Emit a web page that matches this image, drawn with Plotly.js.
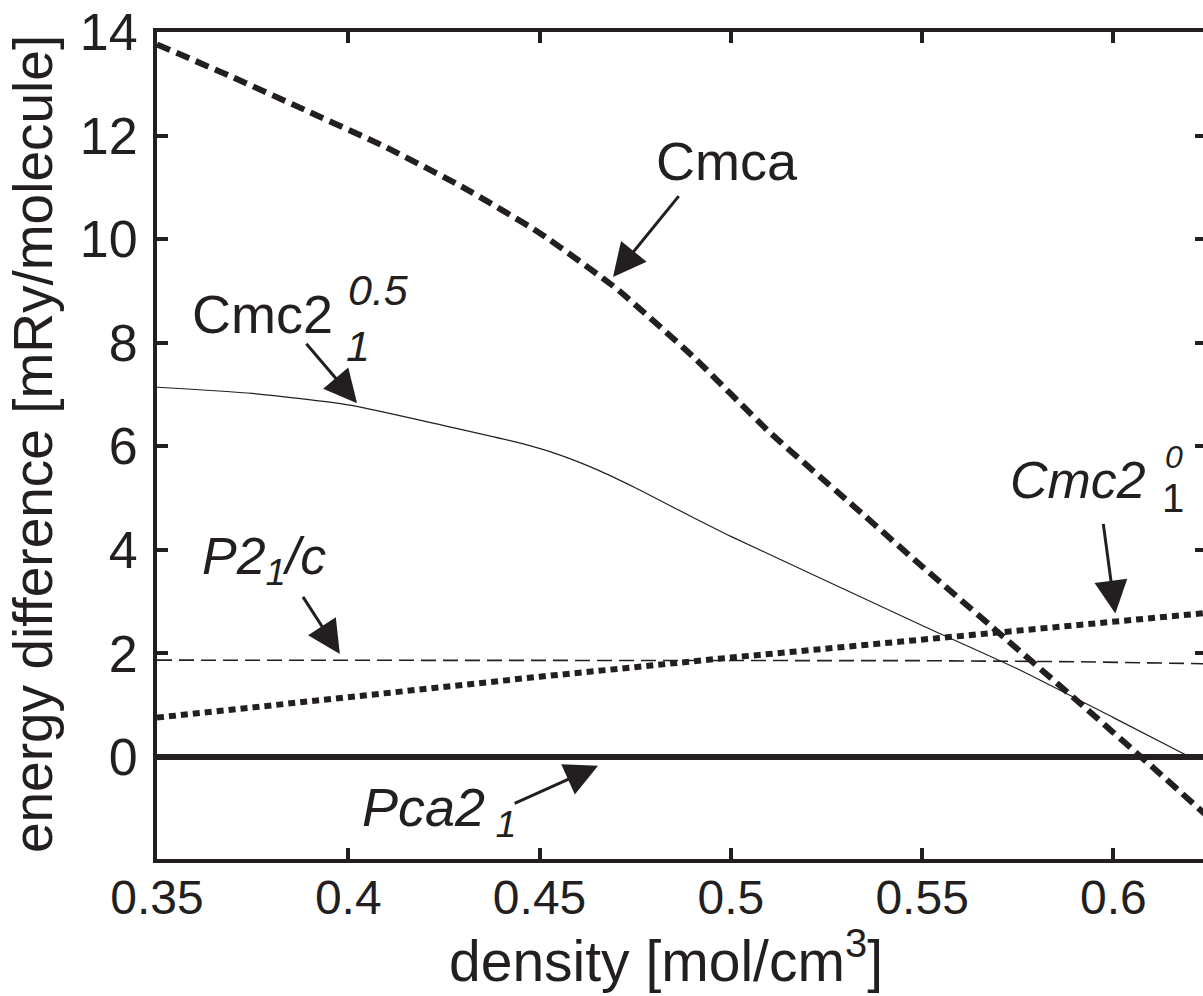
<!DOCTYPE html>
<html>
<head>
<meta charset="utf-8">
<script src="https://cdn.plot.ly/plotly-3.0.1.min.js"></script>
<style>
  html, body { margin: 0; padding: 0; background: #fff; overflow: hidden; }
  #plot { width: 1210px; height: 996px; }
</style>
</head>
<body>
<div id="plot"></div>
<script>
// ---- data ----
const xEnd = 0.6242;

const cmcaDensity = [0.35, 0.37, 0.39, 0.41, 0.43, 0.45, 0.47, 0.49, 0.51, 0.53, 0.55, 0.57, 0.59, 0.61, 0.6242];
const cmcaEnergy  = [13.76, 13.12, 12.45, 11.77, 11.00, 10.12, 9.05, 7.74, 6.28, 4.98, 3.68, 2.40, 1.12, -0.18, -1.12];

const cmc2Half_Density = [0.35, 0.375, 0.40, 0.425, 0.445, 0.455, 0.465, 0.475, 0.49, 0.50, 0.525, 0.55, 0.575, 0.60, 0.62];
const cmc2Half_Energy  = [7.14, 7.02, 6.80, 6.40, 6.06, 5.84, 5.55, 5.20, 4.63, 4.26, 3.40, 2.54, 1.70, 0.76, 0.0];

const p21cDensity = [0.35, 0.45, 0.55, 0.59, 0.6242];
const p21cEnergy  = [1.87, 1.87, 1.86, 1.84, 1.80];

const cmc2Zero_Density = [0.35, 0.40, 0.45, 0.50, 0.55, 0.60, 0.6242];
const cmc2Zero_Energy  = [0.76, 1.16, 1.55, 1.92, 2.27, 2.62, 2.78];

const pca21Density = [0.35, 0.6242];
const pca21Energy  = [0, 0];

const xTickVals = [0.35, 0.4, 0.45, 0.5, 0.55, 0.6];
const xTickText = ['0.35', '0.4', '0.45', '0.5', '0.55', '0.6'];
const yTickVals = [0, 2, 4, 6, 8, 10, 12, 14];
const yTickText = ['0', '2', '4', '6', '8', '10', '12', '14'];

// ---- styling ----
const ink = '#231f20';
const FONT = 'Liberation Sans, Arial, Helvetica, sans-serif';

const traces = [
  { x: pca21Density, y: pca21Energy, mode: 'lines', line: { color: ink, width: 6 } },
  { x: p21cDensity, y: p21cEnergy, mode: 'lines', line: { color: ink, width: 1.6, dash: '15px,7px' } },
  { x: cmc2Half_Density, y: cmc2Half_Energy, mode: 'lines', line: { color: ink, width: 1.2, shape: 'spline', smoothing: 0.6 } },
  { x: cmc2Zero_Density, y: cmc2Zero_Energy, mode: 'lines', line: { color: ink, width: 6, dash: '7px,5px' } },
  { x: cmcaDensity, y: cmcaEnergy, mode: 'lines', line: { color: ink, width: 6, dash: '14px,7px', shape: 'spline', smoothing: 0.5 } }
];

function label(text, x, y, size, opts) {
  return Object.assign({
    x: x, y: y, xref: 'x', yref: 'y', text: text, showarrow: false,
    font: { family: FONT, size: size, color: ink },
    xanchor: 'center', yanchor: 'middle'
  }, opts || {});
}
function arrow(tipX, tipY, tailX, tailY) {
  return {
    x: tipX, y: tipY, ax: tailX, ay: tailY, xref: 'x', yref: 'y', axref: 'x', ayref: 'y',
    text: '', showarrow: true, arrowhead: 2, arrowsize: 2.2, arrowwidth: 3,
    arrowcolor: ink, standoff: 0, startstandoff: 0
  };
}

const annotations = [
  label('Cmca', 0.499, 11.50, 54),
  arrow(0.4692, 9.27, 0.4867, 10.86),

  label('Cmc2', 0.3775, 8.55, 54),
  label('<i>0.5</i>', 0.4078, 9.02, 43),
  label('<i>1</i>', 0.4025, 7.93, 43),
  arrow(0.4023, 6.83, 0.3887, 8.01),

  label('<i>P2<sub>1</sub>/c</i>', 0.3612, 3.80, 52, { xanchor: 'left' }),
  arrow(0.3978, 1.99, 0.3879, 3.12),

  label('<i>Pca2<sub> 1</sub></i>', 0.4031, -1.05, 54, { xanchor: 'left' }),
  arrow(0.4653, -0.17, 0.4431, -0.91),

  label('<i>Cmc2</i>', 0.5908, 5.34, 52),
  label('<i>0</i>', 0.6159, 5.80, 32),
  label('1', 0.6156, 5.01, 40),
  arrow(0.6005, 2.77, 0.5973, 4.53),

  { text: 'density [mol/cm<sup>3</sup>]', xref: 'paper', yref: 'paper', x: 0.485, y: -0.119,
    xanchor: 'center', yanchor: 'middle', showarrow: false,
    font: { family: FONT, size: 57, color: ink } },
  { text: 'energy difference [mRy/molecule]', xref: 'paper', yref: 'paper', x: -0.118, y: 0.502,
    xanchor: 'center', yanchor: 'middle', showarrow: false, textangle: -90,
    font: { family: FONT, size: 55, color: ink } }
];

const axisCommon = {
  showline: true, linewidth: 4, linecolor: ink, mirror: 'ticks',
  ticks: 'inside', ticklen: 11, tickwidth: 4, tickcolor: ink,
  showgrid: false, zeroline: false, tickmode: 'array'
};

const layout = {
  width: 1210, height: 996,
  margin: { l: 157, r: 4, t: 32, b: 137 },
  paper_bgcolor: '#ffffff', plot_bgcolor: '#ffffff',
  showlegend: false,
  font: { family: FONT, color: ink },
  xaxis: Object.assign({}, axisCommon, {
    range: [0.35, xEnd], tickvals: xTickVals, ticktext: xTickText,
    tickfont: { family: FONT, size: 48, color: ink }, ticklabelstandoff: -7
  }),
  yaxis: Object.assign({}, axisCommon, {
    range: [-1.97, 14], tickvals: yTickVals, ticktext: yTickText,
    tickfont: { family: FONT, size: 52, color: ink }, ticklabelstandoff: 5
  }),
  annotations: annotations
};

Plotly.newPlot('plot', traces, layout, { displayModeBar: false, staticPlot: true });
</script>
</body>
</html>
